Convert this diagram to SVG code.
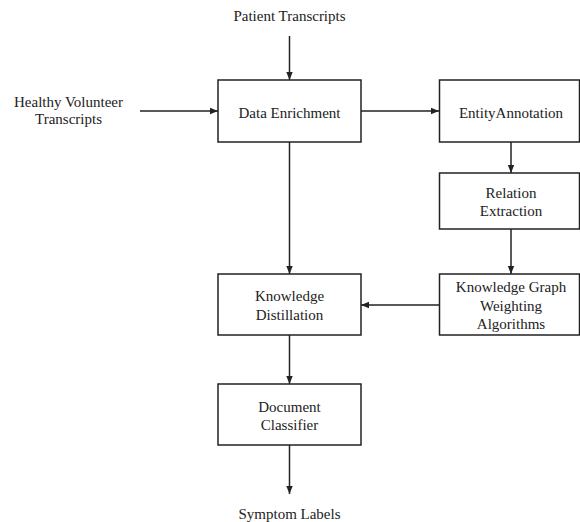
<svg xmlns="http://www.w3.org/2000/svg" width="580" height="522" viewBox="0 0 580 522">
<style>
text{font-family:"Liberation Serif","Times New Roman",serif;font-size:15px;fill:#222;text-anchor:middle}
.box{fill:#fff;stroke:#222;stroke-width:1.5}
.edge{stroke:#222;stroke-width:1.5;fill:none;marker-end:url(#ah)}
</style>
<defs>
<marker id="ah" viewBox="0 0 10 10" refX="10" refY="5" markerWidth="8" markerHeight="8" markerUnits="userSpaceOnUse" orient="auto">
<path d="M0,1 L10,5 L0,9 Z" fill="#222"/>
</marker>
</defs>
<rect width="580" height="522" fill="#fff"/>
<g id="connectors">
<line class="edge" x1="289.5" y1="36" x2="289.5" y2="80"/>
<line class="edge" x1="140" y1="111" x2="218" y2="111"/>
<line class="edge" x1="361" y1="111" x2="439" y2="111"/>
<line class="edge" x1="511" y1="142" x2="511" y2="173"/>
<line class="edge" x1="289.5" y1="142" x2="289.5" y2="274"/>
<line class="edge" x1="511" y1="229" x2="511" y2="274"/>
<line class="edge" x1="439" y1="305" x2="361" y2="305"/>
<line class="edge" x1="289.5" y1="335" x2="289.5" y2="384"/>
<line class="edge" x1="289.5" y1="445" x2="289.5" y2="494"/>
</g>
<g id="patient"><text x="289.5" y="21">Patient Transcripts</text></g>
<g id="healthy"><text x="68.5" y="106.5">Healthy Volunteer</text><text x="68.5" y="124">Transcripts</text></g>
<g id="enrich"><rect class="box" x="218" y="80" width="143" height="62"/><text x="289.5" y="117.5">Data Enrichment</text></g>
<g id="entity"><rect class="box" x="439.5" y="80" width="140" height="62"/><text x="511" y="117.5">EntityAnnotation</text></g>
<g id="relation"><rect class="box" x="439.5" y="173" width="140" height="56"/><text x="511" y="198">Relation</text><text x="511" y="216">Extraction</text></g>
<g id="kgwa"><rect class="box" x="439.5" y="274" width="140" height="61"/><text x="511" y="292">Knowledge Graph</text><text x="511" y="310.5">Weighting</text><text x="511" y="329">Algorithms</text></g>
<g id="distill"><rect class="box" x="218" y="274" width="143" height="61"/><text x="289.5" y="301">Knowledge</text><text x="289.5" y="319.5">Distillation</text></g>
<g id="classifier"><rect class="box" x="218" y="384" width="143" height="61"/><text x="289.5" y="412">Document</text><text x="289.5" y="430">Classifier</text></g>
<g id="symptom"><text x="289.5" y="519">Symptom Labels</text></g>
</svg>
